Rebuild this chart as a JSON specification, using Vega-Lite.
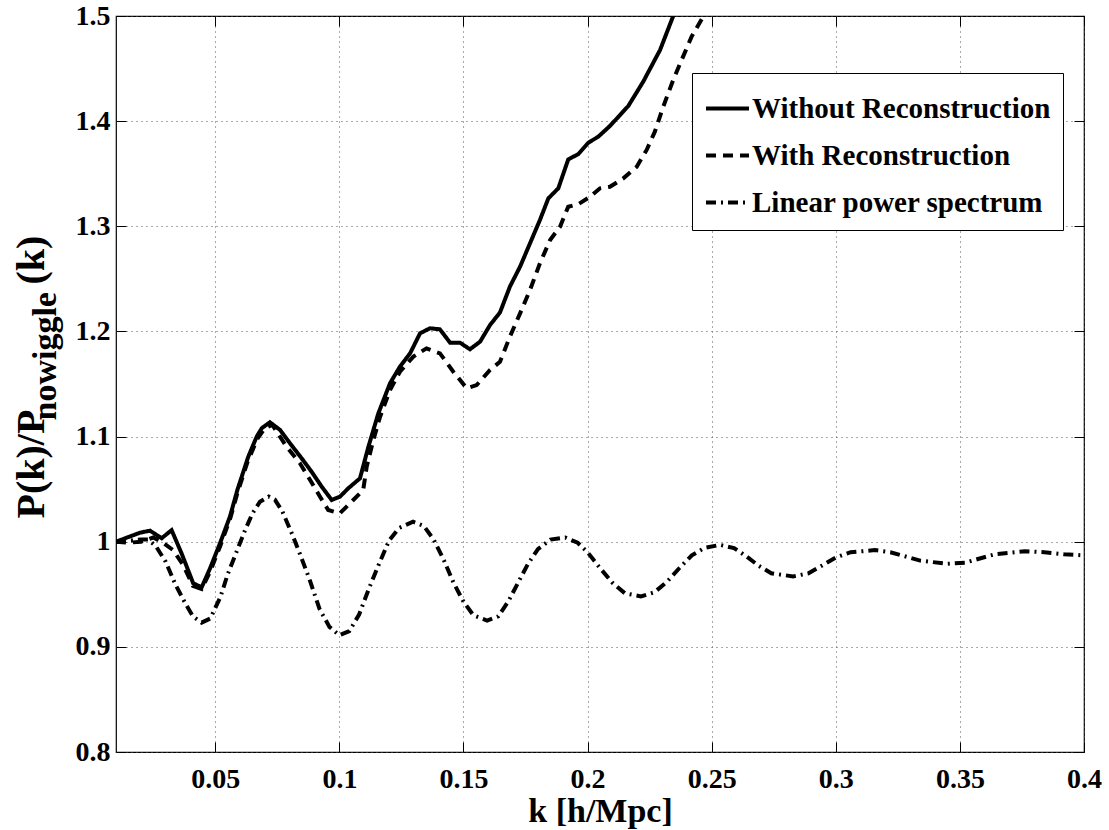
{
  "$schema": "https://vega.github.io/schema/vega-lite/v6.json",
  "autosize": {"type": "none"},
  "width": 968,
  "height": 736,
  "padding": {"left": 116, "top": 16, "right": 25, "bottom": 78},
  "background": "white",
  "config": {
    "font": "Liberation Serif",
    "view": {"stroke": "black", "strokeWidth": 1.2},
    "axis": {
      "labelFont": "Liberation Serif", "labelFontWeight": "bold", "labelFontSize": 28, "labelColor": "black",
      "titleFont": "Liberation Serif", "titleFontWeight": "bold", "titleColor": "black",
      "domain": false, "tickColor": "black", "tickSize": -10, "tickWidth": 1,
      "gridColor": "#555", "gridDash": [1, 4], "gridWidth": 1, "gridOpacity": 1,
      "labelFlush": false, "labelOverlap": false
    }
  },
  "data": {"values": [
    {"k":0.010,"v":1.000,"s":"Without Reconstruction"},
    {"k":0.0197,"v":1.0086,"s":"Without Reconstruction"},
    {"k":0.0237,"v":1.0105,"s":"Without Reconstruction"},
    {"k":0.0284,"v":1.0033,"s":"Without Reconstruction"},
    {"k":0.0324,"v":1.011,"s":"Without Reconstruction"},
    {"k":0.0364,"v":0.989,"s":"Without Reconstruction"},
    {"k":0.0411,"v":0.9605,"s":"Without Reconstruction"},
    {"k":0.0445,"v":0.9566,"s":"Without Reconstruction"},
    {"k":0.0479,"v":0.9747,"s":"Without Reconstruction"},
    {"k":0.0519,"v":0.9985,"s":"Without Reconstruction"},
    {"k":0.0559,"v":1.0238,"s":"Without Reconstruction"},
    {"k":0.0590,"v":1.050,"s":"Without Reconstruction"},
    {"k":0.0633,"v":1.0809,"s":"Without Reconstruction"},
    {"k":0.0667,"v":1.100,"s":"Without Reconstruction"},
    {"k":0.0687,"v":1.1079,"s":"Without Reconstruction"},
    {"k":0.0720,"v":1.1136,"s":"Without Reconstruction"},
    {"k":0.0761,"v":1.1063,"s":"Without Reconstruction"},
    {"k":0.0801,"v":1.0936,"s":"Without Reconstruction"},
    {"k":0.0848,"v":1.0793,"s":"Without Reconstruction"},
    {"k":0.0888,"v":1.0666,"s":"Without Reconstruction"},
    {"k":0.0929,"v":1.0523,"s":"Without Reconstruction"},
    {"k":0.0969,"v":1.0397,"s":"Without Reconstruction"},
    {"k":0.1002,"v":1.0428,"s":"Without Reconstruction"},
    {"k":0.1036,"v":1.0508,"s":"Without Reconstruction"},
    {"k":0.1083,"v":1.0603,"s":"Without Reconstruction"},
    {"k":0.1117,"v":1.0904,"s":"Without Reconstruction"},
    {"k":0.1157,"v":1.1221,"s":"Without Reconstruction"},
    {"k":0.1204,"v":1.1507,"s":"Without Reconstruction"},
    {"k":0.1244,"v":1.1665,"s":"Without Reconstruction"},
    {"k":0.1285,"v":1.1792,"s":"Without Reconstruction"},
    {"k":0.1325,"v":1.1982,"s":"Without Reconstruction"},
    {"k":0.1365,"v":1.2030,"s":"Without Reconstruction"},
    {"k":0.1405,"v":1.2020,"s":"Without Reconstruction"},
    {"k":0.1446,"v":1.1893,"s":"Without Reconstruction"},
    {"k":0.1486,"v":1.1893,"s":"Without Reconstruction"},
    {"k":0.1526,"v":1.1830,"s":"Without Reconstruction"},
    {"k":0.1567,"v":1.1903,"s":"Without Reconstruction"},
    {"k":0.1607,"v":1.2061,"s":"Without Reconstruction"},
    {"k":0.1647,"v":1.2180,"s":"Without Reconstruction"},
    {"k":0.1687,"v":1.2426,"s":"Without Reconstruction"},
    {"k":0.1728,"v":1.2616,"s":"Without Reconstruction"},
    {"k":0.1768,"v":1.2838,"s":"Without Reconstruction"},
    {"k":0.1808,"v":1.3060,"s":"Without Reconstruction"},
    {"k":0.1842,"v":1.3266,"s":"Without Reconstruction"},
    {"k":0.1882,"v":1.3361,"s":"Without Reconstruction"},
    {"k":0.1922,"v":1.3636,"s":"Without Reconstruction"},
    {"k":0.1963,"v":1.3687,"s":"Without Reconstruction"},
    {"k":0.2003,"v":1.3795,"s":"Without Reconstruction"},
    {"k":0.2043,"v":1.3852,"s":"Without Reconstruction"},
    {"k":0.2090,"v":1.3954,"s":"Without Reconstruction"},
    {"k":0.2164,"v":1.4144,"s":"Without Reconstruction"},
    {"k":0.2224,"v":1.4375,"s":"Without Reconstruction"},
    {"k":0.2292,"v":1.4677,"s":"Without Reconstruction"},
    {"k":0.2345,"v":1.5000,"s":"Without Reconstruction"},
    {"k":0.2400,"v":1.5350,"s":"Without Reconstruction"},

    {"k":0.010,"v":1.000,"s":"With Reconstruction"},
    {"k":0.015,"v":0.999,"s":"With Reconstruction"},
    {"k":0.020,"v":1.000,"s":"With Reconstruction"},
    {"k":0.025,"v":1.004,"s":"With Reconstruction"},
    {"k":0.029,"v":0.999,"s":"With Reconstruction"},
    {"k":0.033,"v":0.992,"s":"With Reconstruction"},
    {"k":0.037,"v":0.978,"s":"With Reconstruction"},
    {"k":0.041,"v":0.958,"s":"With Reconstruction"},
    {"k":0.0445,"v":0.955,"s":"With Reconstruction"},
    {"k":0.048,"v":0.972,"s":"With Reconstruction"},
    {"k":0.052,"v":0.996,"s":"With Reconstruction"},
    {"k":0.056,"v":1.022,"s":"With Reconstruction"},
    {"k":0.059,"v":1.047,"s":"With Reconstruction"},
    {"k":0.063,"v":1.076,"s":"With Reconstruction"},
    {"k":0.067,"v":1.098,"s":"With Reconstruction"},
    {"k":0.070,"v":1.108,"s":"With Reconstruction"},
    {"k":0.073,"v":1.111,"s":"With Reconstruction"},
    {"k":0.0787,"v":1.0904,"s":"With Reconstruction"},
    {"k":0.0841,"v":1.0746,"s":"With Reconstruction"},
    {"k":0.0882,"v":1.0587,"s":"With Reconstruction"},
    {"k":0.0922,"v":1.0428,"s":"With Reconstruction"},
    {"k":0.0955,"v":1.0302,"s":"With Reconstruction"},
    {"k":0.1002,"v":1.0270,"s":"With Reconstruction"},
    {"k":0.1056,"v":1.0397,"s":"With Reconstruction"},
    {"k":0.1096,"v":1.0492,"s":"With Reconstruction"},
    {"k":0.1110,"v":1.0713,"s":"With Reconstruction"},
    {"k":0.1137,"v":1.0968,"s":"With Reconstruction"},
    {"k":0.1164,"v":1.1189,"s":"With Reconstruction"},
    {"k":0.1204,"v":1.1443,"s":"With Reconstruction"},
    {"k":0.1244,"v":1.1617,"s":"With Reconstruction"},
    {"k":0.1298,"v":1.1760,"s":"With Reconstruction"},
    {"k":0.1351,"v":1.1839,"s":"With Reconstruction"},
    {"k":0.1405,"v":1.1792,"s":"With Reconstruction"},
    {"k":0.1459,"v":1.1617,"s":"With Reconstruction"},
    {"k":0.1513,"v":1.1459,"s":"With Reconstruction"},
    {"k":0.1553,"v":1.1490,"s":"With Reconstruction"},
    {"k":0.1607,"v":1.1633,"s":"With Reconstruction"},
    {"k":0.1647,"v":1.1712,"s":"With Reconstruction"},
    {"k":0.1687,"v":1.1950,"s":"With Reconstruction"},
    {"k":0.1728,"v":1.2172,"s":"With Reconstruction"},
    {"k":0.1768,"v":1.2394,"s":"With Reconstruction"},
    {"k":0.1808,"v":1.2648,"s":"With Reconstruction"},
    {"k":0.1849,"v":1.2870,"s":"With Reconstruction"},
    {"k":0.1889,"v":1.2996,"s":"With Reconstruction"},
    {"k":0.1922,"v":1.3186,"s":"With Reconstruction"},
    {"k":0.1963,"v":1.3211,"s":"With Reconstruction"},
    {"k":0.2010,"v":1.3281,"s":"With Reconstruction"},
    {"k":0.2050,"v":1.3361,"s":"With Reconstruction"},
    {"k":0.2090,"v":1.3376,"s":"With Reconstruction"},
    {"k":0.2144,"v":1.3456,"s":"With Reconstruction"},
    {"k":0.2198,"v":1.3567,"s":"With Reconstruction"},
    {"k":0.2238,"v":1.3726,"s":"With Reconstruction"},
    {"k":0.2271,"v":1.3900,"s":"With Reconstruction"},
    {"k":0.2305,"v":1.4138,"s":"With Reconstruction"},
    {"k":0.2345,"v":1.4392,"s":"With Reconstruction"},
    {"k":0.2379,"v":1.4582,"s":"With Reconstruction"},
    {"k":0.2419,"v":1.4804,"s":"With Reconstruction"},
    {"k":0.2466,"v":1.4995,"s":"With Reconstruction"},
    {"k":0.2500,"v":1.5200,"s":"With Reconstruction"},

    {"k":0.010,"v":1.000,"s":"Linear power spectrum"},
    {"k":0.015,"v":1.001,"s":"Linear power spectrum"},
    {"k":0.020,"v":1.002,"s":"Linear power spectrum"},
    {"k":0.023,"v":1.002,"s":"Linear power spectrum"},
    {"k":0.026,"v":0.996,"s":"Linear power spectrum"},
    {"k":0.030,"v":0.981,"s":"Linear power spectrum"},
    {"k":0.034,"v":0.959,"s":"Linear power spectrum"},
    {"k":0.038,"v":0.941,"s":"Linear power spectrum"},
    {"k":0.041,"v":0.929,"s":"Linear power spectrum"},
    {"k":0.0445,"v":0.923,"s":"Linear power spectrum"},
    {"k":0.048,"v":0.927,"s":"Linear power spectrum"},
    {"k":0.052,"v":0.947,"s":"Linear power spectrum"},
    {"k":0.055,"v":0.969,"s":"Linear power spectrum"},
    {"k":0.059,"v":0.993,"s":"Linear power spectrum"},
    {"k":0.062,"v":1.011,"s":"Linear power spectrum"},
    {"k":0.065,"v":1.027,"s":"Linear power spectrum"},
    {"k":0.068,"v":1.038,"s":"Linear power spectrum"},
    {"k":0.0715,"v":1.043,"s":"Linear power spectrum"},
    {"k":0.074,"v":1.040,"s":"Linear power spectrum"},
    {"k":0.077,"v":1.029,"s":"Linear power spectrum"},
    {"k":0.081,"v":1.007,"s":"Linear power spectrum"},
    {"k":0.084,"v":0.989,"s":"Linear power spectrum"},
    {"k":0.088,"v":0.964,"s":"Linear power spectrum"},
    {"k":0.092,"v":0.936,"s":"Linear power spectrum"},
    {"k":0.096,"v":0.919,"s":"Linear power spectrum"},
    {"k":0.100,"v":0.911,"s":"Linear power spectrum"},
    {"k":0.104,"v":0.915,"s":"Linear power spectrum"},
    {"k":0.108,"v":0.931,"s":"Linear power spectrum"},
    {"k":0.112,"v":0.956,"s":"Linear power spectrum"},
    {"k":0.116,"v":0.979,"s":"Linear power spectrum"},
    {"k":0.120,"v":1.001,"s":"Linear power spectrum"},
    {"k":0.124,"v":1.013,"s":"Linear power spectrum"},
    {"k":0.1297,"v":1.019,"s":"Linear power spectrum"},
    {"k":0.134,"v":1.015,"s":"Linear power spectrum"},
    {"k":0.138,"v":1.002,"s":"Linear power spectrum"},
    {"k":0.142,"v":0.983,"s":"Linear power spectrum"},
    {"k":0.146,"v":0.961,"s":"Linear power spectrum"},
    {"k":0.150,"v":0.943,"s":"Linear power spectrum"},
    {"k":0.154,"v":0.930,"s":"Linear power spectrum"},
    {"k":0.1595,"v":0.925,"s":"Linear power spectrum"},
    {"k":0.164,"v":0.929,"s":"Linear power spectrum"},
    {"k":0.168,"v":0.943,"s":"Linear power spectrum"},
    {"k":0.172,"v":0.961,"s":"Linear power spectrum"},
    {"k":0.176,"v":0.979,"s":"Linear power spectrum"},
    {"k":0.180,"v":0.993,"s":"Linear power spectrum"},
    {"k":0.185,"v":1.002,"s":"Linear power spectrum"},
    {"k":0.191,"v":1.004,"s":"Linear power spectrum"},
    {"k":0.196,"v":0.999,"s":"Linear power spectrum"},
    {"k":0.200,"v":0.990,"s":"Linear power spectrum"},
    {"k":0.205,"v":0.975,"s":"Linear power spectrum"},
    {"k":0.210,"v":0.961,"s":"Linear power spectrum"},
    {"k":0.215,"v":0.951,"s":"Linear power spectrum"},
    {"k":0.2215,"v":0.948,"s":"Linear power spectrum"},
    {"k":0.227,"v":0.952,"s":"Linear power spectrum"},
    {"k":0.232,"v":0.962,"s":"Linear power spectrum"},
    {"k":0.237,"v":0.975,"s":"Linear power spectrum"},
    {"k":0.242,"v":0.987,"s":"Linear power spectrum"},
    {"k":0.247,"v":0.994,"s":"Linear power spectrum"},
    {"k":0.2533,"v":0.997,"s":"Linear power spectrum"},
    {"k":0.259,"v":0.994,"s":"Linear power spectrum"},
    {"k":0.264,"v":0.986,"s":"Linear power spectrum"},
    {"k":0.269,"v":0.977,"s":"Linear power spectrum"},
    {"k":0.274,"v":0.970,"s":"Linear power spectrum"},
    {"k":0.2828,"v":0.967,"s":"Linear power spectrum"},
    {"k":0.289,"v":0.970,"s":"Linear power spectrum"},
    {"k":0.295,"v":0.978,"s":"Linear power spectrum"},
    {"k":0.300,"v":0.985,"s":"Linear power spectrum"},
    {"k":0.306,"v":0.990,"s":"Linear power spectrum"},
    {"k":0.3158,"v":0.992,"s":"Linear power spectrum"},
    {"k":0.322,"v":0.990,"s":"Linear power spectrum"},
    {"k":0.328,"v":0.986,"s":"Linear power spectrum"},
    {"k":0.334,"v":0.982,"s":"Linear power spectrum"},
    {"k":0.3448,"v":0.979,"s":"Linear power spectrum"},
    {"k":0.352,"v":0.980,"s":"Linear power spectrum"},
    {"k":0.358,"v":0.984,"s":"Linear power spectrum"},
    {"k":0.364,"v":0.988,"s":"Linear power spectrum"},
    {"k":0.3762,"v":0.991,"s":"Linear power spectrum"},
    {"k":0.384,"v":0.990,"s":"Linear power spectrum"},
    {"k":0.392,"v":0.988,"s":"Linear power spectrum"},
    {"k":0.400,"v":0.987,"s":"Linear power spectrum"}
  ]},
  "resolve": {"axis": {"x": "independent", "y": "independent"}},
  "layer": [
    {
      "mark": {"type": "line", "clip": true, "strokeWidth": 4, "color": "black"},
      "encoding": {
        "x": {"field": "k", "type": "quantitative",
              "scale": {"domain": [0.01, 0.4], "nice": false, "zero": false},
              "axis": {"orient": "bottom", "values": [0.05,0.1,0.15,0.2,0.25,0.3,0.35,0.4], "format": ".2~f",
                       "labelPadding": 23, "title": "k [h/Mpc]", "titleFontSize": 34,
                       "titleX": 484, "titleY": 69, "titleBaseline": "alphabetic", "titleAlign": "center"}},
        "y": {"field": "v", "type": "quantitative",
              "scale": {"domain": [0.8, 1.5], "nice": false, "zero": false},
              "axis": {"orient": "left", "values": [0.8,0.9,1,1.1,1.2,1.3,1.4,1.5], "format": ".1~f",
                       "labelPadding": 16, "title": "P(k)/P", "titleFontSize": 40, "titleAngle": -90,
                       "titleX": -73, "titleY": 502, "titleAlign": "left", "titleBaseline": "alphabetic"}},
        "strokeDash": {"field": "s", "type": "nominal",
              "scale": {"domain": ["Without Reconstruction", "With Reconstruction", "Linear power spectrum"],
                        "range": [[1, 0], [10, 7], [10, 5, 2, 5]]},
              "legend": {"orient": "none", "legendX": 576, "legendY": 57, "title": null,
                         "strokeColor": "black", "fillColor": "white", "padding": 12,
                         "symbolType": "stroke", "symbolSize": 1849, "symbolStrokeWidth": 4,
                         "symbolStrokeColor": "black", "labelFont": "Liberation Serif", "labelFontWeight": "bold",
                         "labelFontSize": 29, "labelColor": "black", "labelOffset": 1, "rowPadding": 8,
                         "labelLimit": 500}},
        "detail": {"field": "s"},
        "order": {"field": "k", "type": "quantitative"}
      }
    },
    {
      "mark": {"type": "line", "strokeOpacity": 0},
      "encoding": {
        "x": {"field": "k", "type": "quantitative",
              "axis": {"orient": "top", "values": [0.05,0.1,0.15,0.2,0.25,0.3,0.35,0.4], "labels": false, "grid": false, "title": null}},
        "y": {"field": "v", "type": "quantitative",
              "axis": {"orient": "right", "values": [0.8,0.9,1,1.1,1.2,1.3,1.4,1.5], "labels": false, "grid": false, "title": null}},
        "detail": {"field": "s"}
      }
    },
    {
      "mark": {"type": "line", "strokeOpacity": 0},
      "encoding": {
        "x": {"field": "k", "type": "quantitative", "axis": null},
        "y": {"field": "v", "type": "quantitative",
              "axis": {"orient": "left", "labels": false, "ticks": false, "grid": false, "title": "nowiggle",
                       "titleFontSize": 34, "titleAngle": -90, "titleX": -61, "titleY": 404,
                       "titleAlign": "left", "titleBaseline": "alphabetic"}},
        "detail": {"field": "s"}
      }
    },
    {
      "mark": {"type": "line", "strokeOpacity": 0},
      "encoding": {
        "x": {"field": "k", "type": "quantitative", "axis": null},
        "y": {"field": "v", "type": "quantitative",
              "axis": {"orient": "left", "labels": false, "ticks": false, "grid": false, "title": "(k)",
                       "titleFontSize": 40, "titleAngle": -90, "titleX": -73, "titleY": 268,
                       "titleAlign": "left", "titleBaseline": "alphabetic"}},
        "detail": {"field": "s"}
      }
    }
  ]
}
